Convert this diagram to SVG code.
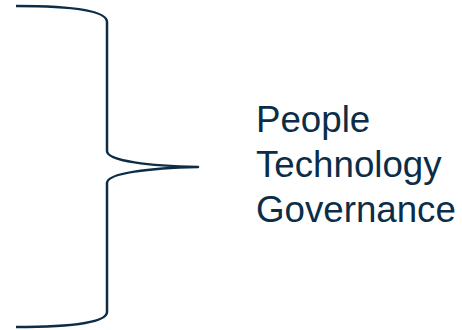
<svg xmlns="http://www.w3.org/2000/svg" width="462" height="330" viewBox="0 0 462 330">
<style>
.brace{fill:none;stroke:#0b2d48;stroke-width:2.5;stroke-linejoin:round}
.lbl{font-family:"Liberation Sans",Arial,sans-serif;font-size:36.7px;fill:#0b2d48}
</style>
<rect width="462" height="330" fill="#ffffff"/>
<g id="connectors">
<path class="brace" d="M16,6 C75,6 107,11 107,22 L107,151 C107,161 150,166 198,167 C150,168 107,173 107,183 L107,312 C107,322 75,327 16,327"/>
</g>
<g id="labels">
<text class="lbl" x="256" y="132">People</text>
<text class="lbl" x="256" y="177">Technology</text>
<text class="lbl" x="256" y="222">Governance</text>
</g>
</svg>
